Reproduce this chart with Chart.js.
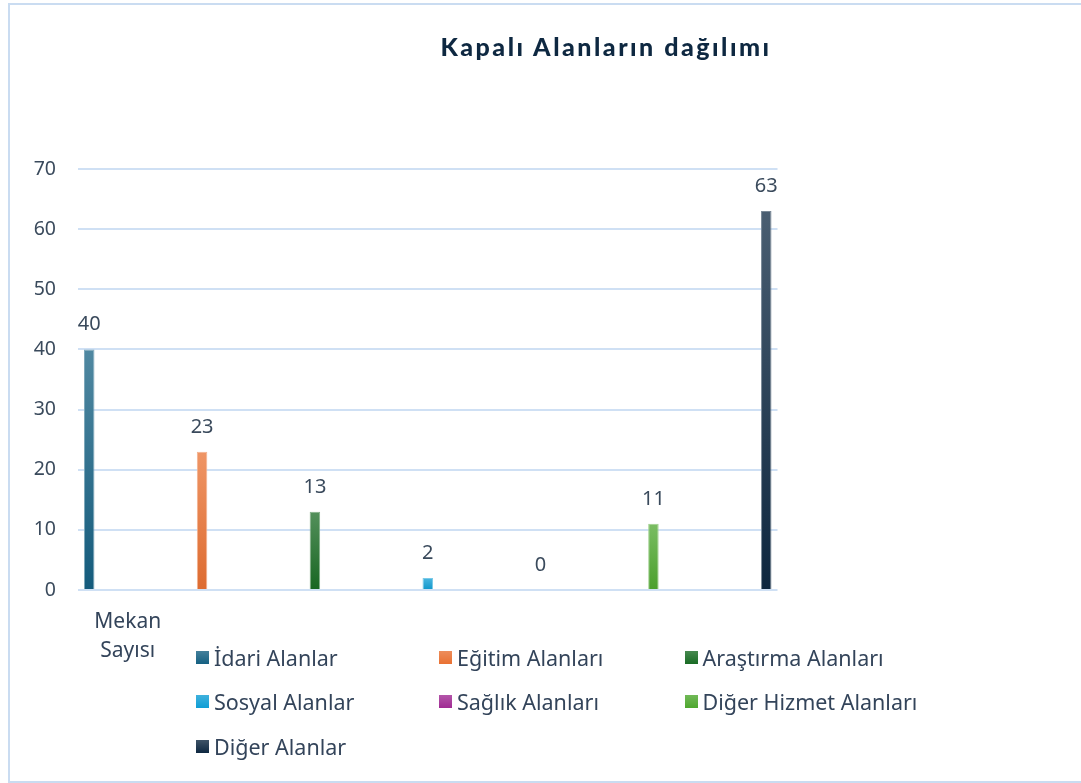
<!DOCTYPE html>
<html>
<head>
<meta charset="utf-8">
<script src="https://cdn.jsdelivr.net/npm/chart.js@4.4.1/dist/chart.umd.min.js"></script>
<style>
  html, body { margin: 0; padding: 0; background: #fff; }
  body { width: 1081px; height: 783px; position: relative; overflow: hidden; }
  #frame { position: absolute; left: 8px; top: 3px; width: 1090px; height: 776px; border: 2px solid #cadcf1; box-sizing: content-box; }
  #wrap { position: absolute; left: 0; top: 0; width: 1081px; height: 783px; }
  #title { position: absolute; top: 31px; left: 606px; transform: translateX(-50%); white-space: nowrap;
           font-family: "Lato", sans-serif; font-weight: 900; font-size: 25px; color: #0e2841; letter-spacing: 2.5px; }
  #legend { position: absolute; left: 196px; top: 635px; display: grid; grid-template-columns: 243px 245.5px 260px; row-gap: 0; }
  .li { display: flex; align-items: center; height: 44.5px; font-family: "Noto Sans", sans-serif; font-size: 21.5px; color: #33445a; white-space: nowrap; }
  .sw { width: 13px; height: 13px; margin-right: 5px; flex: none; }
</style>
</head>
<body>
<div id="frame"></div>
<div id="wrap"><canvas id="c" width="1081" height="783"></canvas></div>
<div id="title">Kapalı Alanların dağılımı</div>
<div id="legend"></div>
<script>
const categories = ['Mekan Sayısı'];
const seriesNames = ['İdari Alanlar', 'Eğitim Alanları', 'Araştırma Alanları', 'Sosyal Alanlar', 'Sağlık Alanları', 'Diğer Hizmet Alanları', 'Diğer Alanlar'];
const seriesValues = [40, 23, 13, 2, 0, 11, 63];
const seriesColors = ['#156082', '#E97132', '#196B24', '#0F9ED5', '#A02B93', '#4EA72E', '#0E2841'];
const yMin = 0, yMax = 70, yStep = 10;

function mix(hex, target, t) {
  const n = parseInt(hex.slice(1), 16);
  const r = (n >> 16) & 255, g = (n >> 8) & 255, b = n & 255;
  const tr = target === 'white' ? 255 : 0;
  const f = c => Math.round(c + (tr - c) * t);
  return 'rgb(' + f(r) + ',' + f(g) + ',' + f(b) + ')';
}

const datasets = seriesNames.map((name, i) => ({
  label: name,
  data: [seriesValues[i]],
  backgroundColor: (ctx) => {
    const chart = ctx.chart;
    if (!chart.chartArea || ctx.type !== 'data') return seriesColors[i];
    const ys = chart.scales.y;
    const top = ys.getPixelForValue(ctx.raw);
    const bottom = ys.getPixelForValue(0);
    if (Math.abs(bottom - top) < 1) return seriesColors[i];
    const g = chart.ctx.createLinearGradient(0, top, 0, bottom);
    g.addColorStop(0, mix(seriesColors[i], 'white', 0.25));
    g.addColorStop(1, mix(seriesColors[i], 'black', 0.05));
    return g;
  },
  borderColor: mix(seriesColors[i], 'white', 0.45),
  borderWidth: 1,
  borderSkipped: 'bottom'
}));

const valueLabels = {
  id: 'valueLabels',
  afterDatasetsDraw(chart) {
    const c = chart.ctx;
    c.save();
    c.font = '20px "Noto Sans", sans-serif';
    c.fillStyle = '#3a4a5c';
    c.textAlign = 'center';
    c.textBaseline = 'alphabetic';
    chart.data.datasets.forEach((ds, i) => {
      const meta = chart.getDatasetMeta(i);
      meta.data.forEach((el, j) => {
        c.fillText(String(ds.data[j]), el.x, el.y - 19);
      });
    });
    c.restore();
  }
};

new Chart(document.getElementById('c'), {
  type: 'bar',
  data: { labels: [['Mekan', 'Sayısı']], datasets },
  options: {
    responsive: false,
    animation: false,
    devicePixelRatio: 1,
    categoryPercentage: 1.1292,
    barPercentage: 0.093,
    layout: { padding: { left: 0, right: 303.5, top: 169, bottom: 103 } },
    plugins: { legend: { display: false }, title: { display: false }, tooltip: { enabled: false } },
    scales: {
      x: {
        grid: { display: false },
        border: { display: false },
        ticks: {
          font: { family: 'Noto Sans', size: 21, lineHeight: 1.4 },
          color: '#33445a',
          padding: 9,
          labelOffset: -300,
          maxRotation: 0
        },
        afterFit(s) { s.height = 90; }
      },
      y: {
        min: yMin, max: yMax,
        ticks: { stepSize: yStep, font: { family: 'Noto Sans', size: 19.5 }, color: '#3a4a5c', padding: 22 },
        grid: { color: '#cfe0f4', lineWidth: 2, drawTicks: false },
        border: { display: false },
        afterFit(s) { s.width = 78; }
      }
    }
  },
  plugins: [valueLabels]
});

const lg = document.getElementById('legend');
seriesNames.forEach((name, i) => {
  const d = document.createElement('div');
  d.className = 'li';
  const sw = document.createElement('span');
  sw.className = 'sw';
  sw.style.background = 'linear-gradient(' + mix(seriesColors[i], 'white', 0.2) + ',' + seriesColors[i] + ')';
  d.appendChild(sw);
  d.appendChild(document.createTextNode(name));
  lg.appendChild(d);
});
</script>
</body>
</html>
